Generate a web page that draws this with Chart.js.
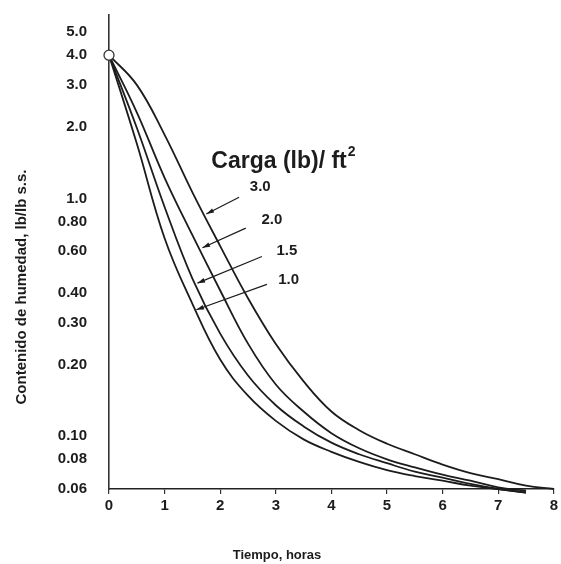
<!DOCTYPE html>
<html lang="es">
<head>
    <meta charset="UTF-8">
    <title>Curvas de secado</title>
    <script src="https://cdn.jsdelivr.net/npm/chart.js@4.4.1/dist/chart.umd.min.js"></script>
    <style>
        body { margin: 0; background: #fff; }
        #wrap { width: 561px; height: 564px; }
    </style>
</head>
<body>
    <div id="wrap"><canvas id="secado"></canvas></div>

    <script>
        // tiempo, horas
        const horas = [0, 0.5, 1, 1.5, 2, 2.5, 3, 3.5, 4, 4.5, 5, 5.5, 6, 6.5, 7, 7.5, 8];

        // contenido de humedad (lb/lb s.s.) por carga
        const carga30 = [4.0, 3.0, 1.85, 1.06, 0.63, 0.38, 0.244, 0.170, 0.127, 0.106, 0.093, 0.084, 0.076, 0.070, 0.066, 0.062, 0.060];
        const carga20 = [4.0, 2.3, 1.22, 0.70, 0.41, 0.245, 0.165, 0.127, 0.103, 0.089, 0.080, 0.074, 0.069, 0.065, 0.061, 0.059, null];
        const carga15 = [4.0, 1.98, 0.92, 0.46, 0.27, 0.18, 0.135, 0.110, 0.094, 0.084, 0.077, 0.071, 0.067, 0.063, 0.060, 0.058, null];
        const carga10 = [4.0, 1.70, 0.68, 0.36, 0.21, 0.148, 0.116, 0.097, 0.086, 0.078, 0.072, 0.068, 0.065, 0.062, 0.060, 0.058, null];

        const cargas = ['3.0', '2.0', '1.5', '1.0'];
        const yTicks = [5.0, 4.0, 3.0, 2.0, 1.0, 0.8, 0.6, 0.4, 0.3, 0.2, 0.1, 0.08, 0.06];
        const yTickLabels = ['5.0', '4.0', '3.0', '2.0', '1.0', '0.80', '0.60', '0.40', '0.30', '0.20', '0.10', '0.08', '0.06'];

        const FONT = '"Liberation Sans", Arial, sans-serif';
        const INK = '#1c1c1c';

        const pts = arr => horas.map((h, i) => ({x: h, y: arr[i]}));
        const curva = (label, arr) => ({
            label: label,
            data: pts(arr),
            borderColor: INK,
            borderWidth: 1.8,
            pointRadius: 0,
            tension: 0.4,
            clip: false,
            order: 1
        });

        // flechas: punta en la curva, cola y texto (coordenadas de datos)
        const flechas = [
            {tip: [1.75, 0.86], tail: [2.34, 1.01], text: [2.72, 1.12]},
            {tip: [1.68, 0.62], tail: [2.46, 0.75], text: [2.93, 0.81]},
            {tip: [1.59, 0.44], tail: [2.75, 0.57], text: [3.2, 0.60]},
            {tip: [1.57, 0.34], tail: [2.84, 0.435], text: [3.23, 0.455]}
        ];

        const anotaciones = {
            id: 'anotaciones',
            afterDatasetsDraw(chart) {
                const {ctx, scales: {x, y}} = chart;
                ctx.save();
                ctx.fillStyle = INK;
                ctx.strokeStyle = INK;

                // titulo de la leyenda, con el 2 volado
                const lx = x.getPixelForValue(1.84), ly = y.getPixelForValue(1.43);
                ctx.font = 'bold 23px ' + FONT;
                ctx.textAlign = 'left';
                ctx.textBaseline = 'middle';
                ctx.fillText('Carga (lb)/ ft', lx, ly);
                const w = ctx.measureText('Carga (lb)/ ft').width;
                ctx.font = 'bold 14px ' + FONT;
                ctx.fillText('2', lx + w + 1, ly - 9);

                ctx.font = 'bold 15px ' + FONT;
                ctx.textAlign = 'center';
                flechas.forEach((f, i) => {
                    const tx = x.getPixelForValue(f.tip[0]), ty = y.getPixelForValue(f.tip[1]);
                    const sx = x.getPixelForValue(f.tail[0]), sy = y.getPixelForValue(f.tail[1]);
                    ctx.lineWidth = 1.2;
                    ctx.beginPath();
                    ctx.moveTo(sx, sy);
                    ctx.lineTo(tx, ty);
                    ctx.stroke();
                    const a = Math.atan2(ty - sy, tx - sx);
                    ctx.beginPath();
                    ctx.moveTo(tx, ty);
                    ctx.lineTo(tx - 8 * Math.cos(a - 0.3), ty - 8 * Math.sin(a - 0.3));
                    ctx.lineTo(tx - 8 * Math.cos(a + 0.3), ty - 8 * Math.sin(a + 0.3));
                    ctx.closePath();
                    ctx.fill();
                    ctx.fillText(cargas[i], x.getPixelForValue(f.text[0]), y.getPixelForValue(f.text[1]));
                });

                // titulos de ejes
                ctx.font = 'bold 13px ' + FONT;
                ctx.fillText('Tiempo, horas', 277, 555);
                ctx.font = 'bold 15px ' + FONT;
                ctx.translate(22, 287);
                ctx.rotate(-Math.PI / 2);
                ctx.fillText('Contenido de humedad, lb/lb s.s.', 0, 0);
                ctx.restore();
            }
        };

        new Chart(document.getElementById('secado'), {
            type: 'line',
            data: {
                datasets: [
                    {
                        label: 'inicio',
                        data: [{x: 0, y: 4.0}],
                        showLine: false,
                        pointRadius: 5,
                        pointBackgroundColor: '#fff',
                        pointBorderColor: '#333',
                        pointBorderWidth: 1.3,
                        clip: false,
                        order: 0
                    },
                    curva('3.0', carga30),
                    curva('2.0', carga20),
                    curva('1.5', carga15),
                    curva('1.0', carga10)
                ]
            },
            options: {
                responsive: true,
                maintainAspectRatio: false,
                animation: false,
                layout: { padding: { top: 15, right: 4, bottom: 0, left: 0 } },
                plugins: {
                    legend: { display: false },
                    tooltip: { enabled: false }
                },
                scales: {
                    x: {
                        type: 'linear',
                        min: 0,
                        max: 8,
                        ticks: {
                            stepSize: 1,
                            color: INK,
                            padding: 3,
                            font: { family: FONT, size: 15, weight: 'bold' }
                        },
                        grid: { display: true, drawOnChartArea: false, tickLength: 5, color: '#333', lineWidth: 1.2 },
                        border: { display: true, color: '#222', width: 1.6 },
                        afterFit: s => { s.height = 75; }
                    },
                    y: {
                        type: 'logarithmic',
                        min: 0.06,
                        max: 5.9,
                        afterBuildTicks: s => { s.ticks = yTicks.map(v => ({value: v})); },
                        ticks: {
                            autoSkip: false,
                            color: INK,
                            padding: 14,
                            font: { family: FONT, size: 15, weight: 'bold' },
                            callback: v => yTickLabels[yTicks.indexOf(v)]
                        },
                        grid: { display: false },
                        border: { display: true, color: '#333', width: 1.6 },
                        afterFit: s => { s.width = 109; s.paddingTop = 0; s.paddingBottom = 0; }
                    }
                }
            },
            plugins: [anotaciones]
        });
    </script>
</body>
</html>
